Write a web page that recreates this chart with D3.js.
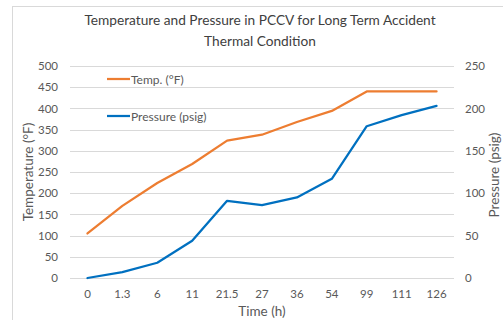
<!DOCTYPE html>
<html>
<head>
<meta charset="utf-8">
<script src="https://cdn.jsdelivr.net/npm/d3@7"></script>
<style>
  html, body { margin: 0; padding: 0; background: #fff; }
  svg { display: block; font-family: Lato, "Open Sans", sans-serif; }
</style>
</head>
<body>
<svg id="chart" width="503" height="320"></svg>
<script>
// Time points (h) shown as categories along the x axis
const times = ["0", "1.3", "6", "11", "21.5", "27", "36", "54", "99", "111", "126"];
// Containment temperature (°F)
const temperature = [105, 170, 224, 269, 324, 338, 368, 394, 440, 440, 440];
// Containment pressure (psig)
const pressure = [0, 7, 18, 44, 91, 86, 95, 117, 179, 192, 203];
// Axis ticks
const tempTicks = [0, 50, 100, 150, 200, 250, 300, 350, 400, 450, 500];
const pressTicks = [0, 50, 100, 150, 200, 250];

const svg = d3.select("#chart");
const plotL = 70, plotR = 454, plotT = 66, plotB = 278;

// Outer frame of the chart area
svg.append("rect")
  .attr("x", 12.5).attr("y", 6.5)
  .attr("width", 520).attr("height", 330)
  .attr("fill", "none").attr("stroke", "#d9d9d9");

const x = d3.scaleBand().domain(times).range([plotL, plotR]);
const yT = d3.scaleLinear().domain([0, 500]).range([plotB, plotT]);
const yP = d3.scaleLinear().domain([0, 250]).range([plotB, plotT]);

// Horizontal gridlines
svg.append("g")
  .selectAll("line")
  .data(tempTicks)
  .join("line")
  .attr("x1", plotL).attr("x2", plotR)
  .attr("y1", d => Math.round(yT(d)) + 0.5)
  .attr("y2", d => Math.round(yT(d)) + 0.5)
  .attr("stroke", "#d9d9d9").attr("stroke-width", 1);

const tickFont = sel => sel.selectAll("text")
  .attr("font-size", 11.5).attr("fill", "#595959")
  .attr("font-family", "Lato, sans-serif");

// Left axis (temperature)
const axL = svg.append("g")
  .attr("transform", `translate(${plotL},0)`)
  .call(d3.axisLeft(yT).tickValues(tempTicks).tickSize(0).tickPadding(12));
axL.select(".domain").remove();
tickFont(axL);

// Right axis (pressure)
const axR = svg.append("g")
  .attr("transform", `translate(${plotR},0)`)
  .call(d3.axisRight(yP).tickValues(pressTicks).tickSize(0).tickPadding(11));
axR.select(".domain").remove();
tickFont(axR);

// Bottom axis (time categories)
const axB = svg.append("g")
  .attr("transform", `translate(0,${plotB})`)
  .call(d3.axisBottom(x).tickSize(0).tickPadding(12));
axB.select(".domain").remove();
tickFont(axB);

const cx = d => x(d) + x.bandwidth() / 2;

// Temperature series
svg.append("path")
  .datum(times.map((t, i) => [t, temperature[i]]))
  .attr("fill", "none").attr("stroke", "#ed7d31").attr("stroke-width", 2.25)
  .attr("stroke-linejoin", "round").attr("stroke-linecap", "round")
  .attr("d", d3.line().x(d => cx(d[0])).y(d => yT(d[1])));

// Pressure series
svg.append("path")
  .datum(times.map((t, i) => [t, pressure[i]]))
  .attr("fill", "none").attr("stroke", "#0070c0").attr("stroke-width", 2.25)
  .attr("stroke-linejoin", "round").attr("stroke-linecap", "round")
  .attr("d", d3.line().x(d => cx(d[0])).y(d => yP(d[1])));

// Legend inside the plot area
const legend = [
  { label: "Temp. (°F)", color: "#ed7d31", y: 79 },
  { label: "Pressure (psig)", color: "#0070c0", y: 116 }
];
const lg = svg.append("g").selectAll("g").data(legend).join("g");
lg.append("line")
  .attr("x1", 107).attr("x2", 130)
  .attr("y1", d => d.y).attr("y2", d => d.y)
  .attr("stroke", d => d.color).attr("stroke-width", 2.25);
lg.append("text")
  .attr("x", 131).attr("y", d => d.y + 4.5)
  .attr("font-size", 12).attr("fill", "#595959")
  .text(d => d.label);

// Title
const title = svg.append("text")
  .attr("text-anchor", "middle").attr("font-size", 13.7).attr("fill", "#404040");
title.append("tspan").attr("x", 260).attr("y", 25)
  .text("Temperature and Pressure in PCCV for Long Term Accident");
title.append("tspan").attr("x", 260).attr("y", 46)
  .text("Thermal Condition");

// Axis titles
svg.append("text")
  .attr("text-anchor", "middle").attr("font-size", 13.5).attr("fill", "#595959")
  .attr("transform", "translate(33,172) rotate(-90)")
  .text("Temperature (°F)");
svg.append("text")
  .attr("text-anchor", "middle").attr("font-size", 13.5).attr("fill", "#595959")
  .attr("transform", "translate(499,175) rotate(-90)")
  .text("Pressure (psig)");
svg.append("text")
  .attr("text-anchor", "middle").attr("font-size", 13.5).attr("fill", "#595959")
  .attr("x", 262).attr("y", 316)
  .text("Time (h)");
</script>
</body>
</html>
